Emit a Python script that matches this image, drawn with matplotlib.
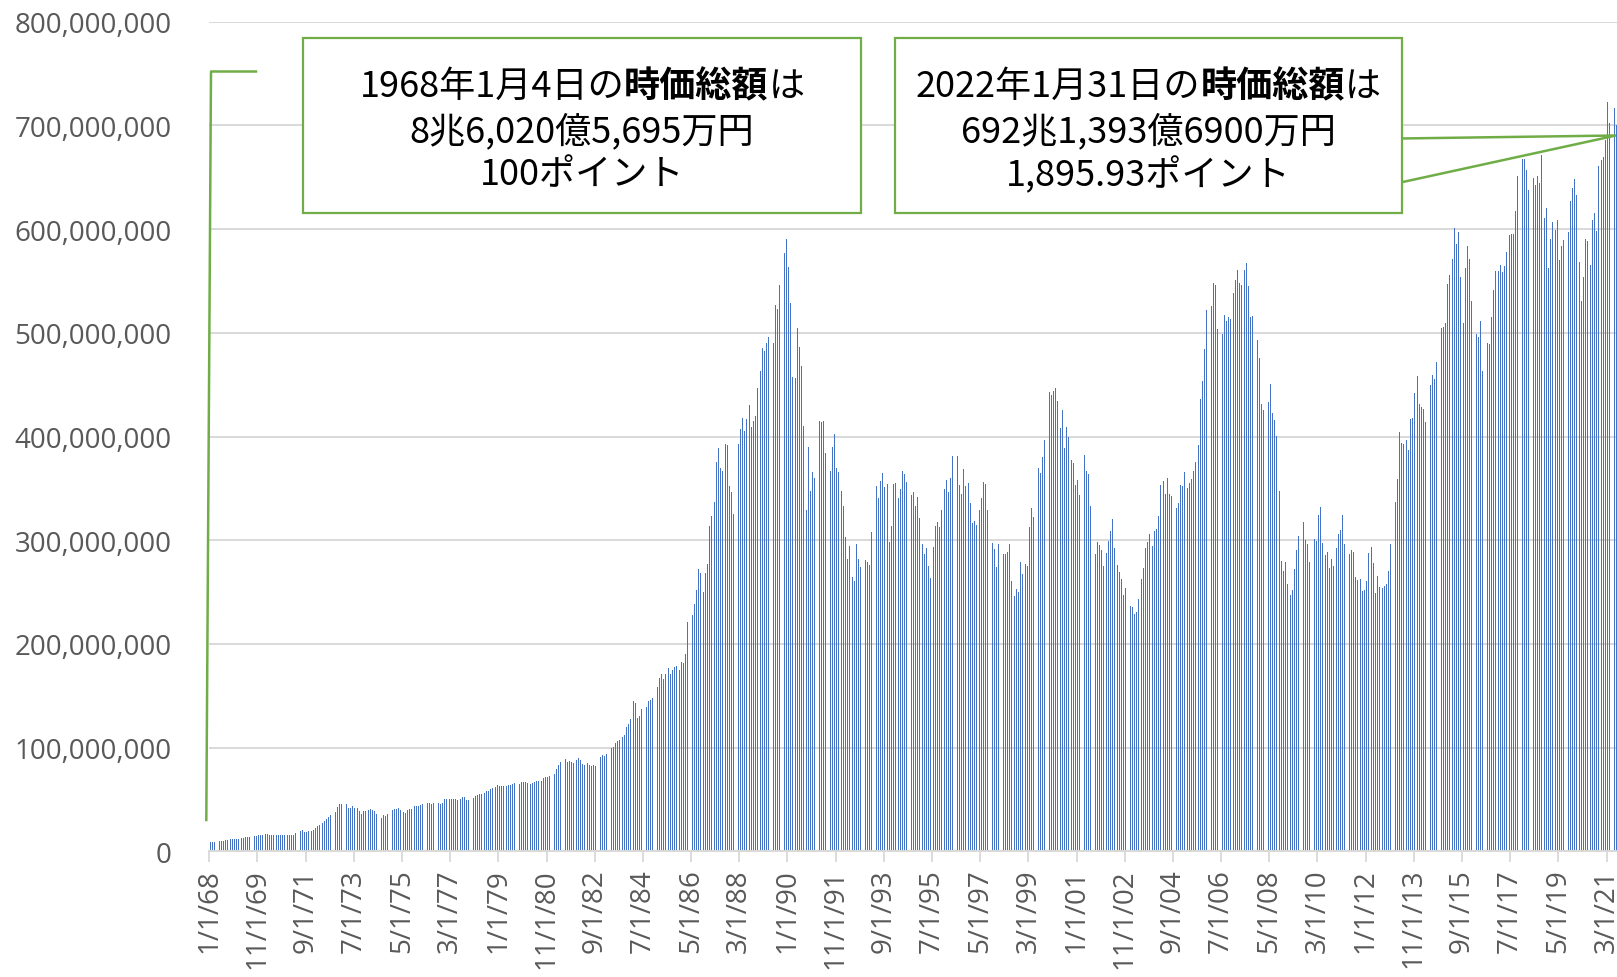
import numpy as np
import matplotlib
matplotlib.use('Agg')
import matplotlib.pyplot as plt
from matplotlib.patches import Rectangle, Polygon
from matplotlib.lines import Line2D

# figure size in pixels (dpi 100)
W, H = 1617, 978

# Monthly total market cap, in trillion yen (axis unit is million yen -> x 1e6)
# one row per year, Jan..Dec, from 1968 to Jan 2022
market_cap = [
    8.6, 9.2, 9.3, 9.5, 9.7, 10.0, 10.3, 10.5, 11.0, 11.5, 11.8, 11.6,          # 1968
    11.7, 12.0, 12.5, 13.0, 13.5, 13.8, 13.4, 13.5, 14.5, 15.0, 15.8, 16.2,     # 1969
    16.0, 16.5, 17.0, 15.4, 15.5, 15.6, 15.5, 15.6, 15.4, 15.5, 15.6, 15.3,     # 1970
    15.4, 15.5, 16.0, 17.5, 18.5, 19.5, 20.8, 18.5, 19.0, 19.5, 20.0, 21.0,     # 1971
    22.6, 24.2, 25.8, 27.4, 29.7, 31.3, 33.5, 34.8, 36.8, 38.1, 42.6, 45.8,     # 1972
    45.8, 44.5, 45.8, 41.3, 41.3, 43.5, 41.9, 41.3, 38.7, 36.1, 38.7, 38.7,     # 1973
    39.4, 41.0, 40.3, 38.7, 36.1, 33.9, 32.3, 34.8, 34.5, 36.1, 38.7, 40.3,     # 1974
    40.6, 40.6, 41.3, 40.0, 38.0, 36.8, 40.3, 41.0, 41.0, 43.5, 43.5, 43.5,     # 1975
    44.2, 45.2, 45.8, 46.5, 47.0, 46.0, 46.5, 46.5, 47.0, 46.0, 46.5, 50.0,     # 1976
    50.5, 50.0, 50.0, 50.3, 50.0, 49.8, 50.5, 52.0, 52.0, 49.5, 49.0, 50.0,     # 1977
    51.0, 53.0, 54.0, 55.0, 55.6, 56.5, 58.0, 58.5, 60.0, 61.0, 62.0, 64.0,     # 1978
    63.0, 63.0, 63.2, 63.0, 63.5, 64.0, 64.5, 65.6, 66.0, 65.0, 66.5, 67.0,     # 1979
    67.0, 66.0, 65.0, 66.0, 67.0, 67.5, 68.0, 68.0, 70.7, 71.5, 72.0, 73.0,     # 1980
    73.0, 75.0, 79.0, 83.6, 86.0, 88.0, 89.0, 86.0, 87.0, 86.0, 85.0, 88.0,     # 1981
    89.5, 88.0, 84.0, 83.0, 85.0, 83.0, 82.5, 83.0, 82.0, 84.0, 91.0, 93.0,     # 1982
    92.0, 94.0, 98.0, 100.0, 101.0, 104.0, 106.0, 107.0, 110.0, 112.0, 119.6, 123.0,  # 1983
    127.6, 144.7, 142.8, 128.6, 130.0, 137.0, 136.0, 139.0, 145.0, 145.5, 148.0, 154.5,  # 1984
    158.4, 166.7, 170.5, 165.7, 171.0, 177.0, 171.0, 175.3, 177.6, 178.5, 175.3, 182.6,  # 1985
    181.8, 190.4, 221.0, 219.3, 228.3, 238.8, 251.7, 272.5, 268.7, 250.0, 268.4, 277.0,  # 1986
    313.3, 323.0, 337.3, 375.0, 388.7, 370.0, 366.9, 392.8, 392.0, 352.7, 346.3, 325.0,  # 1987
    364.7, 392.5, 407.3, 417.6, 405.4, 417.0, 430.4, 409.5, 415.3, 420.0, 446.4, 463.0,  # 1988
    485.0, 482.4, 489.7, 495.5, 505.8, 489.7, 526.6, 523.4, 546.5, 547.5, 577.3, 590.8,  # 1989
    563.0, 529.0, 457.7, 456.7, 504.8, 486.5, 468.2, 410.5, 329.3, 389.6, 347.0, 365.3,  # 1990
    360.4, 413.4, 415.3, 414.3, 415.0, 384.5, 392.5, 366.9, 390.3, 402.1, 369.5, 365.6,  # 1991
    347.6, 332.6, 303.5, 281.8, 294.6, 264.2, 261.0, 296.8, 281.5, 274.4, 284.0, 280.8,  # 1992
    279.0, 276.0, 307.7, 348.6, 351.8, 340.3, 356.9, 364.5, 351.1, 354.3, 298.7, 313.4,  # 1993
    354.3, 355.0, 340.3, 349.2, 366.5, 364.2, 356.2, 357.5, 344.0, 346.6, 333.2, 341.9,  # 1994
    321.1, 296.2, 286.9, 292.3, 275.4, 263.6, 293.6, 314.0, 317.9, 312.5, 328.8, 349.8,  # 1995
    357.8, 346.0, 360.4, 381.2, 374.1, 381.2, 353.7, 345.0, 369.0, 352.4, 355.6, 336.1,  # 1996
    316.3, 318.5, 314.4, 329.4, 340.9, 356.2, 354.3, 329.0, 321.7, 297.1, 291.7, 273.8,  # 1997
    296.2, 297.1, 286.6, 286.6, 288.5, 296.2, 260.4, 246.0, 253.4, 250.0, 279.4, 267.2,  # 1998
    276.8, 275.6, 313.2, 330.9, 322.2, 351.8, 369.5, 364.6, 380.7, 396.8, 418.3, 442.8,  # 1999
    440.2, 444.1, 446.6, 433.8, 408.0, 426.0, 388.7, 408.7, 399.7, 377.2, 374.0, 353.4,  # 2000
    357.9, 343.7, 342.4, 381.7, 366.9, 364.3, 333.4, 309.3, 286.5, 298.0, 295.5, 290.7,  # 2001
    275.2, 287.5, 299.7, 308.4, 320.3, 292.9, 276.2, 269.1, 262.7, 247.3, 254.3, 242.4,  # 2002
    236.7, 236.0, 228.6, 230.5, 243.4, 262.4, 273.0, 292.3, 298.0, 305.8, 294.5, 309.3,  # 2003
    310.5, 323.2, 353.4, 357.2, 344.4, 359.8, 345.0, 342.4, 334.7, 330.9, 336.0, 353.4,  # 2004
    352.7, 365.6, 350.8, 355.3, 359.0, 366.5, 375.8, 391.5, 436.0, 454.0, 484.3, 521.8,  # 2005
    541.4, 526.0, 548.1, 546.5, 503.5, 504.2, 498.4, 517.6, 511.2, 515.4, 513.2, 538.8,  # 2006
    551.3, 561.0, 548.4, 545.9, 561.0, 567.7, 545.2, 514.8, 516.4, 521.2, 492.6, 475.3,  # 2007
    431.3, 425.6, 389.3, 432.9, 450.3, 422.7, 415.6, 400.9, 347.6, 279.6, 270.6, 279.0,  # 2008
    257.8, 246.9, 252.0, 271.9, 290.8, 303.7, 311.7, 317.4, 300.1, 296.3, 279.0, 302.7,  # 2009
    301.4, 299.5, 324.5, 332.2, 297.2, 286.0, 288.2, 273.2, 281.8, 275.4, 292.4, 305.9,  # 2010
    310.0, 324.5, 296.3, 290.8, 286.7, 290.2, 288.6, 264.2, 261.6, 262.9, 251.4, 252.0,  # 2011
    260.3, 287.3, 293.5, 277.8, 249.0, 265.5, 254.5, 253.7, 256.3, 257.6, 270.7, 296.5,  # 2012
    324.7, 336.9, 359.4, 404.3, 394.0, 393.1, 396.3, 387.0, 416.5, 418.1, 441.5, 458.2,  # 2013
    431.6, 428.4, 426.8, 413.9, 427.4, 449.9, 459.5, 455.0, 472.3, 478.1, 504.4, 505.4,  # 2014
    509.5, 547.1, 555.7, 571.1, 601.0, 585.6, 597.4, 553.5, 509.2, 562.1, 583.3, 571.1,  # 2015
    530.7, 481.3, 498.9, 495.7, 511.5, 463.6, 490.9, 490.3, 489.3, 515.3, 541.3, 559.9,  # 2016
    559.9, 565.4, 558.3, 564.7, 578.0, 594.0, 595.5, 595.5, 617.3, 651.3, 660.9, 667.9,  # 2017
    667.3, 656.7, 637.8, 660.3, 649.4, 642.9, 651.3, 644.9, 671.8, 610.9, 620.5, 562.2,  # 2018
    590.4, 606.4, 599.0, 608.7, 570.2, 584.0, 589.7, 570.2, 597.4, 626.9, 639.7, 648.1,  # 2019
    633.3, 568.6, 530.8, 553.5, 590.4, 588.5, 565.4, 609.0, 615.1, 598.0, 660.9, 667.0,  # 2020
    669.9, 685.6, 722.4, 702.6, 709.6, 716.7, 700.0, 713.0, 740.0, 728.0, 714.0, 728.0,  # 2021
    692.1,                                                                            # 2022
]

# date labels on the category axis (every 22 months)
tick_labels = ['1/1/68', '11/1/69', '9/1/71', '7/1/73', '5/1/75', '3/1/77',
               '1/1/79', '11/1/80', '9/1/82', '7/1/84', '5/1/86', '3/1/88',
               '1/1/90', '11/1/91', '9/1/93', '7/1/95', '5/1/97', '3/1/99',
               '1/1/01', '11/1/02', '9/1/04', '7/1/06', '5/1/08', '3/1/10',
               '1/1/12', '11/1/13', '9/1/15', '7/1/17', '5/1/19', '3/1/21']

y_ticks = [0, 100, 200, 300, 400, 500, 600, 700, 800]   # in 1e6

# first line is split so that 時価総額 can be set in bold
box_left_head = [('1968年1月4日の', 'normal'), ('時価総額', 'bold'), ('は', 'normal')]
box_left_lines = ['8兆6,020億5,695万円', '100ポイント']
box_right_head = [('2022年1月31日の', 'normal'), ('時価総額', 'bold'), ('は', 'normal')]
box_right_lines = ['692兆1,393億6900万円', '1,895.93ポイント']

GRAY_TEXT = '#595959'
GRID = '#D9D9D9'
BAR = '#4472C4'
GREEN = '#70AD47'
JP_FONT = ['Noto Sans CJK JP', 'DejaVu Sans']
BOX_FONTSIZE = 26


# month index (0 = Jan 1968) of a m/d/yy label
def label_to_month(label):
    month, day, yy = label.split('/')
    year = int(yy) + (1900 if int(yy) >= 68 else 2000)
    return (year - 1968) * 12 + int(month) - 1


# pixel (from top-left) -> figure fraction
def fx(x):
    return x / W


def fy(y):
    return 1 - y / H


fig = plt.figure(figsize=(W / 100, H / 100), dpi=100)
renderer = fig.canvas.get_renderer()

# plot area, the right side runs past the edge of the picture
px_per_month = 2.19
n = len(market_cap)
x0, y_base, y_top = 209.3, 852.3, 22.7
ax = fig.add_axes([fx(x0), fy(y_base), n * px_per_month / W, (y_base - y_top) / H])

positions = np.arange(n) + 0.5
ax.bar(positions, np.array(market_cap) * 1e6, width=0.42, color=BAR, linewidth=0, zorder=2)

ax.set_xlim(0, n)
ax.set_ylim(0, 800e6)

ax.set_yticks([v * 1e6 for v in y_ticks])
ax.set_yticklabels([f'{v * 1000000:,}' for v in y_ticks], fontfamily='Open Sans',
                   fontsize=20, color=GRAY_TEXT)
ax.tick_params(axis='y', length=0, pad=27)

ax.set_xticks([label_to_month(t) for t in tick_labels])
ax.set_xticklabels(tick_labels, rotation=90, fontfamily='Open Sans', fontsize=20,
                   color=GRAY_TEXT, va='top', ha='center')
ax.tick_params(axis='x', length=8, width=1.3, color=GRID, pad=4)

ax.grid(axis='y', color=GRID, linewidth=1.4, zorder=0)
ax.set_axisbelow(True)
for side in ['top', 'right', 'left']:
    ax.spines[side].set_visible(False)
ax.spines['bottom'].set_color(GRID)
ax.spines['bottom'].set_linewidth(1.4)


# one centered line made of pieces with different weights
def draw_mixed_line(cx, y, parts):
    pieces = [fig.text(0, fy(y), s, ha='left', va='center', fontsize=BOX_FONTSIZE,
                       family=JP_FONT, weight=w, color='black', zorder=6) for s, w in parts]
    widths = [p.get_window_extent(renderer).width for p in pieces]
    x = cx - sum(widths) / 2
    for p, w in zip(pieces, widths):
        p.set_x(fx(x))
        x += w


# callout box with three centered lines of text
def draw_box(x1, y1, x2, y2, head, lines):
    rect = Rectangle((fx(x1), fy(y2)), (x2 - x1) / W, (y2 - y1) / H, transform=fig.transFigure,
                     facecolor='white', edgecolor=GREEN, linewidth=1.6, zorder=5)
    fig.add_artist(rect)
    cx = (x1 + x2) / 2
    draw_mixed_line(cx, 87.0, head)
    for text, ty in zip(lines, [132.0, 175.0]):
        fig.text(fx(cx), fy(ty), text, ha='center', va='center', fontsize=BOX_FONTSIZE,
                 family=JP_FONT, color='black', zorder=6)


# left callout: leader line down to the first bar
leader = Line2D([fx(256), fx(211), fx(206.3)], [fy(72.5), fy(72.5), fy(821)],
                transform=fig.transFigure, color=GREEN, linewidth=1.8, zorder=5)
fig.add_artist(leader)
draw_box(303.2, 39.2, 861.1, 213.5, box_left_head, box_left_lines)

# right callout: wedge pointing at the latest month
wedge = Polygon([(fx(1400), fy(139.5)), (fx(1616), fy(136.5)), (fx(1400), fy(183.6))],
                closed=True, transform=fig.transFigure, facecolor='white',
                edgecolor=GREEN, linewidth=1.8, zorder=4)
fig.add_artist(wedge)
draw_box(895.2, 39.2, 1401.5, 213.5, box_right_head, box_right_lines)

fig.savefig('out.png', dpi=100)
